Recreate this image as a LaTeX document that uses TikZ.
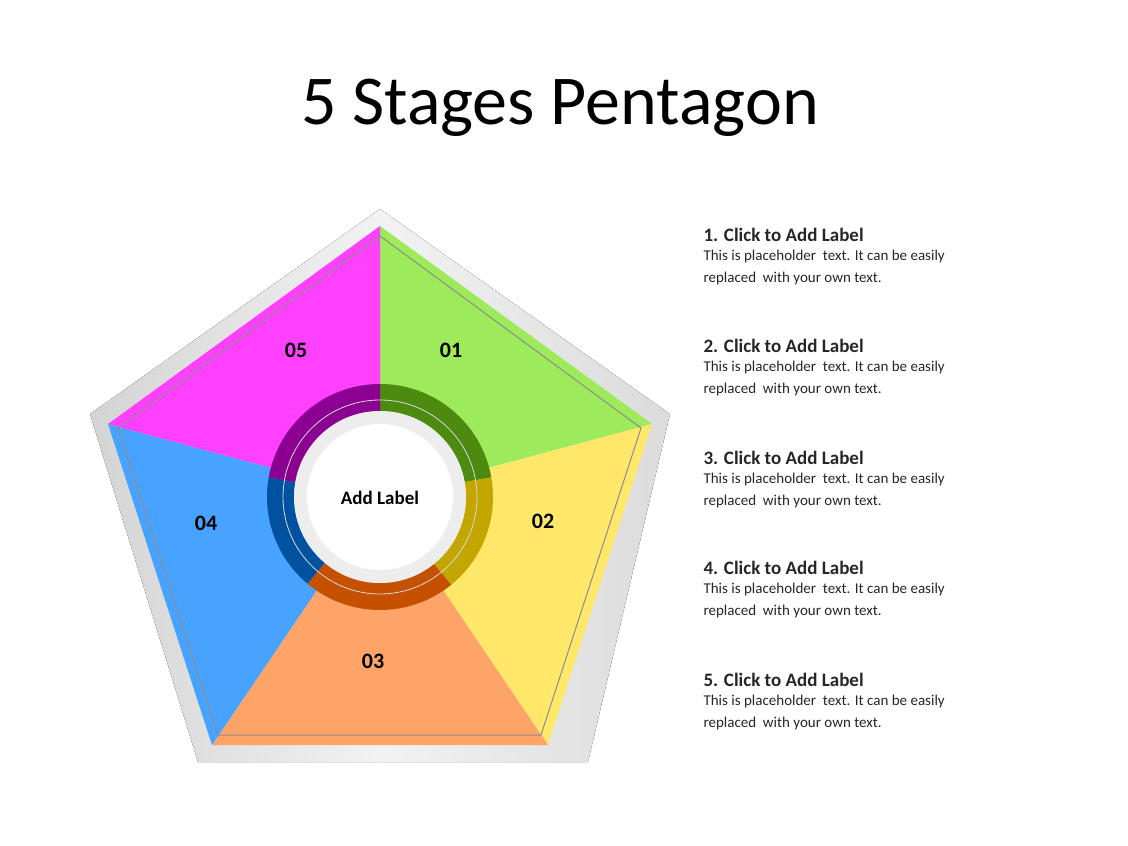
\documentclass[tikz,border=0pt]{standalone}
\usepackage{fontspec}
\setmainfont{Carlito}
\usetikzlibrary{calc}
\definecolor{cmag}{HTML}{FF40FF}
\definecolor{cgrn}{HTML}{9DEB5A}
\definecolor{cyel}{HTML}{FFE76A}
\definecolor{cora}{HTML}{FFA468}
\definecolor{cblu}{HTML}{47A3FF}
\definecolor{dmag}{HTML}{8B0090}
\definecolor{dgrn}{HTML}{4C8A10}
\definecolor{dyel}{HTML}{C4A600}
\definecolor{dora}{HTML}{C45000}
\definecolor{dblu}{HTML}{0052A0}
\begin{document}
\begin{tikzpicture}[x=1pt,y=-1pt,
  num/.style={font=\bfseries\fontsize{22}{26}\selectfont},
  head/.style={anchor=west,font=\bfseries\fontsize{19}{22}\selectfont,text=black!85},
  body/.style={anchor=north west,align=left,font=\fontsize{15}{22}\selectfont,text=black!85}]
\useasboundingbox (0,0) rectangle (1128,846);
\node (title) at (560,108) {\fontsize{70}{80}\selectfont 5 Stages Pentagon};
% outer gray pentagon
\fill[left color=black!17,right color=black!14,middle color=black!5] (380,209) -- (670,414) -- (588,762) -- (198,762) -- (90,414) -- cycle;
\coordinate (C) at (380,497);
\coordinate (T) at (380,226);
\coordinate (R) at (652,424);
\coordinate (BR) at (548,745);
\coordinate (BL) at (212,745);
\coordinate (L) at (108,424);
\fill[cgrn] (C) -- (T) -- (R) -- cycle;
\fill[cyel] (C) -- (R) -- (BR) -- cycle;
\fill[cora] (C) -- (BR) -- (BL) -- cycle;
\fill[cblu] (C) -- (BL) -- (L) -- cycle;
\fill[cmag] (C) -- (L) -- (T) -- cycle;
\draw[black!45,line width=1pt] (380,236) -- (641,428) -- (541,735) -- (218,735) -- (118,428) -- cycle;
% ring
\foreach \a/\b/\c in {90/10/dgrn,10/-51/dyel,-51/-130/dora,-130/-190/dblu,170/90/dmag}{
  \fill[\c] ($(C)+(-\a:113)$) arc[start angle=-\a,end angle=-\b,radius=113] -- ($(C)+(-\b:86)$) arc[start angle=-\b,end angle=-\a,radius=86] -- cycle;
}
\draw[white!70!gray,line width=0.8pt] (C) circle[radius=97];
\fill[black!7] (C) circle[radius=86];
\fill[white] (C) circle[radius=73];
\node[font=\bfseries\fontsize{19}{22}\selectfont] (center) at (380,498) {Add Label};
\node[num] (n1) at (451,350) {01};
\node[num] (n2) at (543,521) {02};
\node[num] (n3) at (373,661) {03};
\node[num] (n4) at (206,523) {04};
\node[num] (n5) at (296,350) {05};
\foreach \i/\y in {1/235,2/346,3/458,4/568,5/680}{
  \node[head] (h\i) at (700,\y) {\i. Click to Add Label};
  \node[body] (b\i) at (700,\y+12) {This is placeholder\ \ text. It can be easily\\replaced\ \ with your own text.};
}
\end{tikzpicture}
\end{document}
